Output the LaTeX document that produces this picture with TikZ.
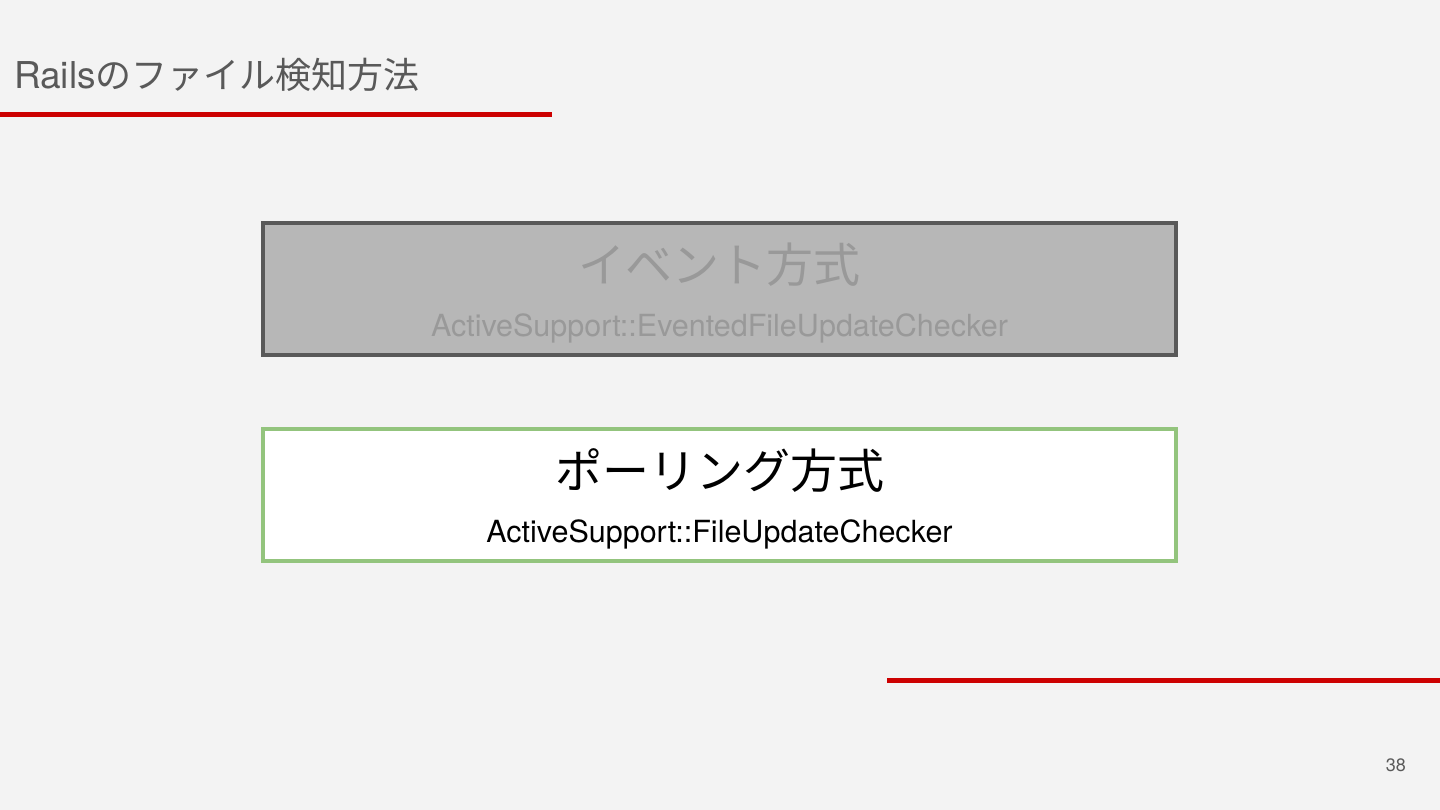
\documentclass[tikz,border=0pt]{standalone}
\usepackage{fontspec}
\setmainfont{Noto Sans CJK JP}
\newfontfamily\jpfont{Noto Sans CJK JP}
\newfontfamily\latfont{TeX Gyre Heros}
\definecolor{bgc}{HTML}{F3F3F3}
\definecolor{redc}{HTML}{CC0000}
\definecolor{titlec}{HTML}{595959}
\definecolor{boxgray}{HTML}{B7B7B7}
\definecolor{boxedge}{HTML}{595959}
\definecolor{fadetext}{HTML}{999999}
\definecolor{greenedge}{HTML}{93C47D}
\tikzset{
  panel/.style={rectangle, minimum width=913pt, minimum height=132pt, inner sep=0pt, line width=4pt},
  headtext/.style={font=\jpfont\fontsize{47pt}{50pt}\selectfont, inner sep=0pt},
  subtext/.style={font=\latfont\fontsize{30.5pt}{34pt}\selectfont, inner sep=0pt},
  redbar/.style={redc, line width=5pt},
}
\begin{document}
\begin{tikzpicture}[x=1pt,y=-1pt]
\fill[bgc] (0,0) rectangle (1440,810);
\useasboundingbox (0,0) rectangle (1440,810);
% title
\node[anchor=base west, inner sep=0pt, text=titlec] (title) at (14,89) {{\latfont\fontsize{37pt}{40pt}\selectfont Rails}{\jpfont\fontsize{36pt}{40pt}\selectfont のファイル検知方法}};
\coordinate (r1a) at (0,114.5);
\coordinate (r1b) at (552,114.5);
\draw[redbar] (r1a) -- (r1b);
\coordinate (r2a) at (887,680.5);
\coordinate (r2b) at (1440,680.5);
\draw[redbar] (r2a) -- (r2b);
% boxes
\node[panel, draw=boxedge, fill=boxgray] (evbox) at (719.5,289) {};
\node[headtext, text=fadetext, anchor=base] (evhead) at (719.5,283) {イベント方式};
\node[subtext, text=fadetext, anchor=base] (evsub) at (719.5,336) {ActiveSupport::EventedFileUpdateChecker};
\node[panel, draw=greenedge, fill=white] (pbox) at (719.5,494.5) {};
\node[headtext, text=black, anchor=base] (phead) at (719.5,488) {ポーリング方式};
\node[subtext, text=black, anchor=base] (psub) at (719.5,542) {ActiveSupport::FileUpdateChecker};
% page number
\node[anchor=base east, inner sep=0pt, text=titlec, font=\latfont\fontsize{18pt}{20pt}\selectfont] (pnum) at (1406,771) {38};
\end{tikzpicture}
\end{document}
